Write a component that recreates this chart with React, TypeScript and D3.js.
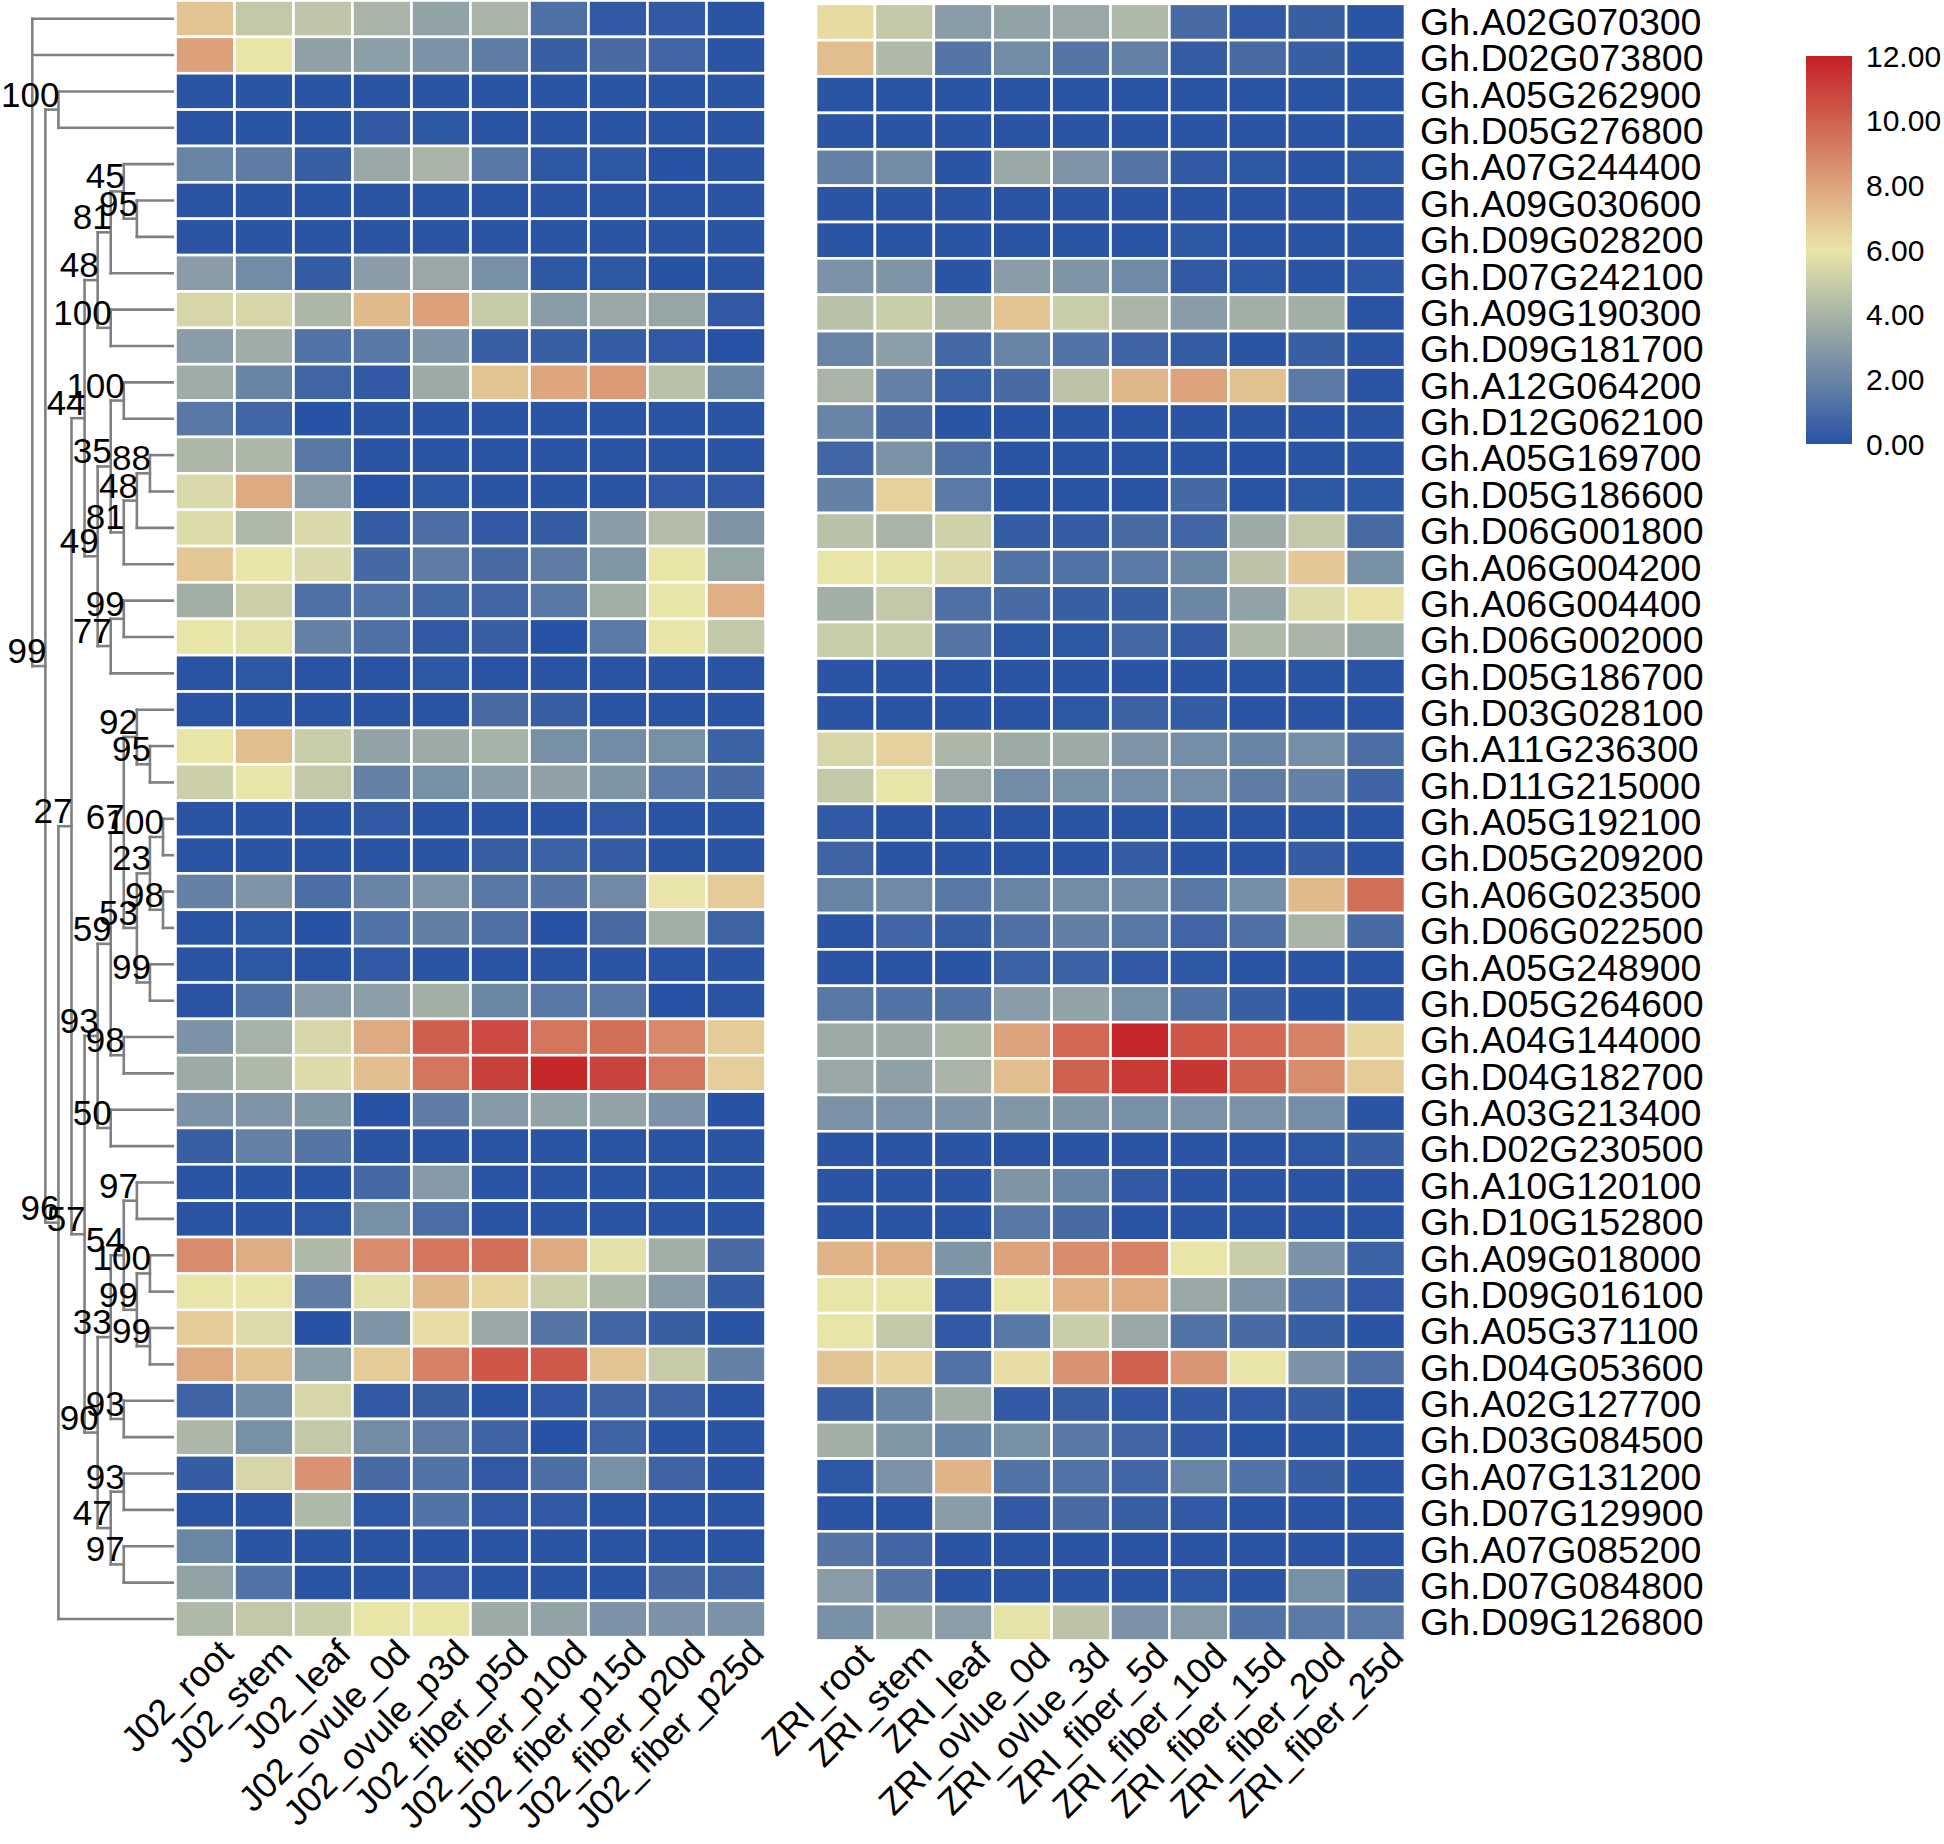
import React from "react";
import * as d3 from "d3";

const GENES = [
  "Gh.A02G070300","Gh.D02G073800","Gh.A05G262900","Gh.D05G276800","Gh.A07G244400",
  "Gh.A09G030600","Gh.D09G028200","Gh.D07G242100","Gh.A09G190300","Gh.D09G181700",
  "Gh.A12G064200","Gh.D12G062100","Gh.A05G169700","Gh.D05G186600","Gh.D06G001800",
  "Gh.A06G004200","Gh.A06G004400","Gh.D06G002000","Gh.D05G186700","Gh.D03G028100",
  "Gh.A11G236300","Gh.D11G215000","Gh.A05G192100","Gh.D05G209200","Gh.A06G023500",
  "Gh.D06G022500","Gh.A05G248900","Gh.D05G264600","Gh.A04G144000","Gh.D04G182700",
  "Gh.A03G213400","Gh.D02G230500","Gh.A10G120100","Gh.D10G152800","Gh.A09G018000",
  "Gh.D09G016100","Gh.A05G371100","Gh.D04G053600","Gh.A02G127700","Gh.D03G084500",
  "Gh.A07G131200","Gh.D07G129900","Gh.A07G085200","Gh.D07G084800","Gh.D09G126800",
];

const J02_COLS = ["J02_root","J02_stem","J02_leaf","J02_ovule_0d","J02_ovule_p3d","J02_fiber_p5d","J02_fiber_p10d","J02_fiber_p15d","J02_fiber_p20d","J02_fiber_p25d"];
const ZRI_COLS = ["ZRI_root","ZRI_stem","ZRI_leaf","ZRI_ovlue_0d","ZRI_ovlue_3d","ZRI_fiber_5d","ZRI_fiber_10d","ZRI_fiber_15d","ZRI_fiber_20d","ZRI_fiber_25d"];

const J02_VALUES = [
  [7.0,4.8,4.7,4.0,3.3,4.0,1.2,0.3,0.3,0.1],
  [8.1,6.0,3.2,3.1,2.6,1.7,0.5,1.0,0.8,0.1],
  [0.1,0.1,0.1,0.1,0.1,0.1,0.1,0.1,0.1,0.1],
  [0.1,0.1,0.1,0.3,0.2,0.1,0.1,0.1,0.1,0.1],
  [2.0,1.7,0.5,3.5,4.0,1.5,0.2,0.2,0.0,0.1],
  [0.1,0.1,0.1,0.1,0.1,0.1,0.1,0.1,0.1,0.1],
  [0.1,0.1,0.1,0.1,0.1,0.1,0.1,0.1,0.1,0.1],
  [3.0,2.3,0.4,3.0,3.5,2.5,0.2,0.2,0.0,0.1],
  [5.4,5.4,4.1,7.3,8.1,4.9,3.0,3.5,3.4,0.3],
  [3.0,3.7,1.3,1.5,2.7,0.5,0.5,0.4,0.3,0.0],
  [3.7,2.0,0.8,0.3,3.6,7.0,7.9,8.3,4.5,2.0],
  [1.5,0.8,0.0,0.1,0.1,0.1,0.1,0.1,0.1,0.1],
  [4.1,4.1,1.5,0.1,0.1,0.1,0.1,0.1,0.1,0.1],
  [5.5,7.8,2.9,0.0,0.2,0.1,0.1,0.1,0.3,0.3],
  [5.6,4.2,5.5,0.4,1.1,0.3,0.4,3.0,4.3,2.7],
  [6.9,6.0,5.5,0.9,1.7,1.0,1.7,2.8,6.0,3.4],
  [3.8,5.1,1.2,1.3,0.9,0.8,1.5,3.8,6.0,7.6],
  [6.0,5.8,1.9,1.2,0.3,0.5,0.0,1.6,6.0,4.8],
  [0.1,0.2,0.1,0.1,0.2,0.1,0.1,0.1,0.1,0.1],
  [0.1,0.1,0.1,0.1,0.1,1.0,0.5,0.1,0.1,0.1],
  [6.0,7.2,5.0,3.3,3.6,3.9,2.5,2.3,2.5,0.6],
  [5.1,6.0,4.8,1.9,2.5,3.0,3.2,2.7,1.6,1.0],
  [0.1,0.1,0.1,0.3,0.1,0.1,0.1,0.3,0.1,0.1],
  [0.1,0.1,0.1,0.1,0.1,0.5,0.6,0.4,0.1,0.1],
  [1.9,2.7,1.1,2.0,2.6,1.5,1.4,2.2,6.0,6.8],
  [0.1,0.2,0.0,1.3,1.8,1.2,0.0,1.0,3.8,0.7],
  [0.1,0.2,0.1,0.3,0.1,0.1,0.1,0.1,0.1,0.1],
  [0.1,1.3,2.9,3.1,3.8,2.1,1.5,1.5,0.0,0.1],
  [2.6,3.9,5.4,7.8,10.1,10.7,9.4,9.6,8.8,6.8],
  [3.6,4.2,5.6,7.2,9.4,11.0,11.8,10.9,9.4,6.7],
  [2.6,2.7,2.8,0.0,1.7,2.9,3.3,3.3,2.6,0.0],
  [0.5,1.9,1.4,0.1,0.1,0.1,0.1,0.1,0.1,0.1],
  [0.1,0.1,0.1,0.9,2.9,0.1,0.1,0.1,0.1,0.1],
  [0.1,0.1,0.2,2.5,1.1,0.1,0.1,0.1,0.1,0.1],
  [8.7,7.7,4.2,8.7,9.4,9.6,7.8,5.8,3.8,1.0],
  [6.0,6.0,1.7,5.8,7.4,6.5,5.1,4.2,3.0,0.4],
  [6.8,5.6,0.0,2.7,6.2,3.5,1.4,0.8,0.5,0.1],
  [7.8,7.0,3.1,6.8,9.0,10.3,10.2,7.0,4.9,1.9],
  [0.7,2.3,5.4,0.3,0.5,0.1,0.3,0.7,0.7,0.1],
  [4.1,2.5,4.8,2.3,1.7,0.7,0.0,0.7,0.1,0.1],
  [0.4,5.4,8.5,1.0,1.3,0.3,1.1,2.5,0.7,0.1],
  [0.1,0.1,4.2,0.2,1.3,0.3,0.3,0.1,0.1,0.1],
  [2.1,0.1,0.1,0.1,0.1,0.1,0.1,0.1,0.1,0.1],
  [3.3,1.3,0.1,0.1,0.3,0.1,0.1,0.1,1.0,0.7],
  [4.2,4.8,5.0,6.0,6.0,3.6,3.3,2.6,2.6,2.6],
];

const ZRI_VALUES = [
  [6.3,4.8,3.0,3.3,3.5,4.2,1.0,0.3,0.5,0.1],
  [7.2,4.2,1.4,2.3,1.4,1.9,0.4,1.0,0.5,0.1],
  [0.1,0.1,0.1,0.1,0.1,0.1,0.1,0.1,0.1,0.1],
  [0.1,0.1,0.1,0.1,0.1,0.1,0.1,0.1,0.1,0.1],
  [1.9,2.3,0.1,3.5,2.7,1.4,0.3,0.2,0.1,0.2],
  [0.1,0.1,0.1,0.1,0.1,0.1,0.1,0.1,0.1,0.1],
  [0.1,0.1,0.1,0.1,0.1,0.1,0.2,0.1,0.1,0.1],
  [2.6,2.7,0.1,3.0,2.7,2.2,0.3,0.2,0.1,0.2],
  [4.5,5.0,4.1,7.0,5.0,4.0,3.0,3.8,3.8,0.1],
  [2.0,3.1,0.9,2.0,1.3,0.7,0.4,0.1,0.5,0.1],
  [4.0,1.9,0.6,1.0,4.6,7.4,8.0,7.1,1.6,0.1],
  [2.0,1.0,0.1,0.1,0.1,0.1,0.1,0.1,0.1,0.1],
  [0.8,2.6,1.2,0.1,0.1,0.1,0.1,0.0,0.1,0.1],
  [1.9,6.6,1.6,0.1,0.1,0.1,0.9,0.1,0.2,0.2],
  [4.5,4.0,5.2,0.4,0.4,1.0,0.8,3.6,4.8,1.0],
  [6.0,5.9,5.6,1.3,1.3,1.6,2.1,4.6,6.9,2.5],
  [3.8,4.8,1.2,1.0,0.5,0.5,2.1,3.3,5.6,6.1],
  [5.0,5.0,1.4,0.2,0.2,0.9,0.4,4.2,4.0,3.4],
  [0.1,0.1,0.1,0.1,0.1,0.1,0.1,0.1,0.1,0.1],
  [0.1,0.1,0.1,0.1,0.2,0.6,0.4,0.1,0.1,0.1],
  [5.4,6.6,4.1,3.6,3.6,2.7,2.4,2.0,2.4,1.1],
  [4.8,6.0,3.5,2.3,2.5,2.4,2.4,1.7,1.9,0.7],
  [0.3,0.1,0.1,0.1,0.1,0.1,0.1,0.1,0.1,0.1],
  [0.7,0.1,0.1,0.1,0.1,0.4,0.1,0.1,0.4,0.1],
  [2.0,2.2,1.5,2.0,2.3,2.2,1.5,2.4,7.3,9.6],
  [0.1,0.8,0.5,1.2,1.8,1.5,0.8,1.2,4.0,1.0],
  [0.1,0.1,0.1,0.6,0.6,0.3,0.2,0.1,0.1,0.1],
  [1.5,1.3,1.3,3.0,3.3,2.5,1.3,0.5,0.1,0.1],
  [3.6,3.6,4.1,8.0,9.8,11.8,10.3,9.8,9.0,6.5],
  [3.5,3.2,4.0,7.2,10.0,11.2,11.3,10.0,8.7,6.8],
  [2.6,2.6,2.7,2.8,2.7,2.5,2.6,2.6,2.4,0.1],
  [0.1,0.1,0.1,0.1,0.1,0.1,0.1,0.1,0.2,0.5],
  [0.1,0.1,0.1,2.7,2.0,0.3,0.1,0.1,0.1,0.1],
  [0.1,0.1,0.1,1.5,1.0,0.1,0.1,0.1,0.1,0.1],
  [7.5,7.6,2.7,8.0,8.7,9.0,6.0,5.0,2.6,0.6],
  [6.0,6.0,0.3,6.0,7.6,7.8,3.5,2.7,1.3,0.3],
  [6.0,4.8,0.3,1.5,5.0,3.5,1.3,1.0,0.5,0.1],
  [7.0,6.5,1.3,6.2,8.5,10.0,8.4,6.0,2.6,1.2],
  [0.5,2.0,3.8,0.3,0.5,0.3,0.3,0.3,0.5,0.1],
  [3.8,2.8,2.0,2.5,1.5,0.8,0.3,0.1,0.1,0.1],
  [0.2,2.6,7.5,1.3,1.3,0.8,2.0,1.3,0.5,0.1],
  [0.1,0.1,3.0,0.3,1.0,0.5,0.3,0.1,0.1,0.1],
  [1.4,0.8,0.1,0.1,0.1,0.1,0.1,0.1,0.1,0.1],
  [3.0,1.4,0.1,0.1,0.1,0.1,0.2,0.1,2.5,0.5],
  [2.5,3.6,3.1,5.9,4.6,2.6,2.9,1.3,1.6,1.6],
];

const LEGEND_TICKS = [0, 2, 4, 6, 8, 10, 12];
const COLOR_STOPS = ["#2853A4", "#E9E5A9", "#C41F24"];

// Neighbour-joining tree (leaf = row index, internal label = bootstrap)
const TREE =
  "(0,1,((2,3)100,((((((4,(5,6)95)45,7)81,(8,9)100)48,(((10,11)100,(((12,13)88,14)48,15)81)35,((16,17)99,18)77)49)44," +
  "(((((19,(20,21)95)92,(((22,23)100,(24,25)98)23,(26,27)99)53)67,(28,29)98)59,(30,31)50)93," +
  "((((32,33)97,((34,35)100,(36,37)99)99)54,(38,39)93)33,((40,41)93,(42,43)97)47)90)57)27,44)96)99)";

type TNode = { children?: TNode[]; leaf?: number; label?: string };

function parseNewick(s: string): TNode {
  let i = 0;
  function node(): TNode {
    const n: TNode = {};
    if (s[i] === "(") {
      i++;
      n.children = [node()];
      while (s[i] === ",") {
        i++;
        n.children.push(node());
      }
      i++;
    }
    let tok = "";
    while (i < s.length && !",();".includes(s[i])) tok += s[i++];
    if (n.children) n.label = tok;
    else n.leaf = +tok;
    return n;
  }
  return node();
}

const FONT = "'Liberation Sans', Arial, Helvetica, sans-serif";

export default function App() {
  const W = 1944;
  const H = 1844;
  const rowPitch = 36.37;
  const rowsL = d3.scaleBand<number>().domain(d3.range(GENES.length)).range([0.5, 0.5 + GENES.length * rowPitch]);
  const rowsR = d3.scaleBand<number>().domain(d3.range(GENES.length)).range([3.8, 3.8 + GENES.length * rowPitch]);
  const colsL = d3.scaleBand<number>().domain(d3.range(J02_COLS.length)).range([175.5, 765.5]);
  const colsR = d3.scaleBand<number>().domain(d3.range(ZRI_COLS.length)).range([816, 1405]);
  const color = d3
    .scaleLinear<string>()
    .domain([0, 6, 12])
    .range(COLOR_STOPS)
    .interpolate(d3.interpolateRgb)
    .clamp(true);

  // tree layout
  const root = d3.hierarchy<TNode>(parseNewick(TREE), (d) => d.children);
  const depthX = d3.scaleLinear().domain([0, 10]).range([32.3, 163]);
  const leafX = 173;
  const pos = new Map<any, { x: number; y: number }>();
  root.eachAfter((n) => {
    if (!n.children) {
      pos.set(n, { x: leafX, y: (rowsL(n.data.leaf!) as number) + rowsL.bandwidth() / 2 });
    } else {
      const f = pos.get(n.children[0])!;
      const l = pos.get(n.children[n.children.length - 1])!;
      pos.set(n, { x: depthX(n.depth), y: (f.y + l.y) / 2 });
    }
  });
  const treeLines: JSX.Element[] = [];
  const treeLabels: JSX.Element[] = [];
  let k = 0;
  root.each((n) => {
    if (!n.children) return;
    const p = pos.get(n)!;
    const f = pos.get(n.children[0])!;
    const l = pos.get(n.children[n.children.length - 1])!;
    treeLines.push(<line key={k++} x1={p.x} x2={p.x} y1={f.y} y2={l.y} />);
    n.children.forEach((c) => {
      const cp = pos.get(c)!;
      treeLines.push(<line key={k++} x1={p.x} x2={cp.x} y1={cp.y} y2={cp.y} />);
    });
    if (n.data.label) {
      treeLabels.push(
        <text key={k++} x={p.x + 1} y={p.y - 3} textAnchor="end" fontSize={35}>
          {n.data.label}
        </text>
      );
    }
  });

  const heat = (vals: number[][], cols: d3.ScaleBand<number>, rows: d3.ScaleBand<number>, key: string) =>
    vals.map((row, r) =>
      row.map((v, c) => (
        <rect
          key={`${key}-${r}-${c}`}
          x={cols(c)}
          y={rows(r)}
          width={cols.bandwidth()}
          height={rows.bandwidth()}
          fill={color(v)}
          stroke="#ffffff"
          strokeWidth={2.6}
        />
      ))
    );

  const heatBottomL = (rowsL(GENES.length - 1) as number) + rowsL.bandwidth();
  const heatBottomR = (rowsR(GENES.length - 1) as number) + rowsR.bandwidth();
  const colLabels = (names: string[], cols: d3.ScaleBand<number>, bottom: number, key: string) =>
    names.map((nm, i) => {
      const x = (cols(i) as number) + cols.bandwidth() / 2 + 30;
      const y = bottom + 18;
      return (
        <text key={`${key}-${i}`} x={x} y={y} textAnchor="end" fontSize={36} transform={`rotate(-45 ${x} ${y})`}>
          {nm}
        </text>
      );
    });

  const legY = d3.scaleLinear().domain([0, 12]).range([444, 56]);
  const fmt = d3.format(".2f");

  return (
    <svg
      width={W}
      height={H}
      viewBox={`0 0 ${W} ${H}`}
      style={{ position: "absolute", left: 0, top: 0, background: "#fff" }}
      fontFamily={FONT}
    >
      <defs>
        <linearGradient id="legGrad" x1="0" y1="1" x2="0" y2="0">
          {COLOR_STOPS.map((c, i) => (
            <stop key={i} offset={`${(i / (COLOR_STOPS.length - 1)) * 100}%`} stopColor={c} />
          ))}
        </linearGradient>
      </defs>
      <rect x={0} y={0} width={W} height={H} fill="#fff" />
      <g stroke="#808080" strokeWidth={2.6} strokeLinecap="square">
        {treeLines}
      </g>
      <g fill="#000">{treeLabels}</g>
      <g>{heat(J02_VALUES, colsL, rowsL, "L")}</g>
      <g>{heat(ZRI_VALUES, colsR, rowsR, "R")}</g>
      <g fill="#000">
        {GENES.map((g, i) => (
          <text key={g} x={1420} y={(rowsR(i) as number) + rowsR.bandwidth() / 2 + 13} fontSize={37.5}>
            {g}
          </text>
        ))}
      </g>
      <g fill="#000">
        {colLabels(J02_COLS, colsL, heatBottomL, "cl")}
        {colLabels(ZRI_COLS, colsR, heatBottomR, "cr")}
      </g>
      <rect x={1806} y={legY(12)} width={46} height={legY(0) - legY(12)} fill="url(#legGrad)" />
      <g fill="#000">
        {LEGEND_TICKS.map((t) => (
          <text key={t} x={1866} y={legY(t) + 10.5} fontSize={30}>
            {fmt(t)}
          </text>
        ))}
      </g>
    </svg>
  );
}
